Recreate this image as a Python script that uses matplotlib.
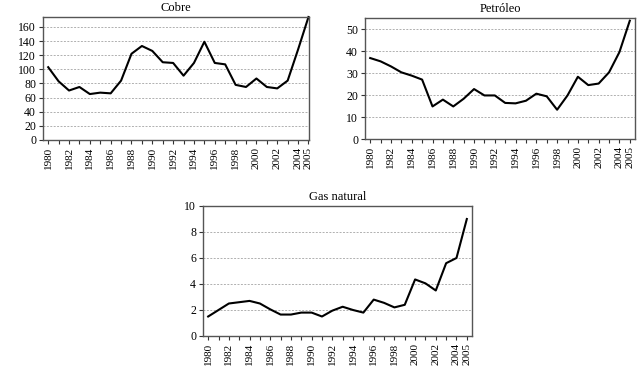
import matplotlib
matplotlib.use("Agg")
import matplotlib.pyplot as plt

years = list(range(1980, 2006))
cobre = [103, 83, 70, 75, 65, 67, 66, 84, 122, 133, 126, 110, 109, 91, 109, 139,
         109, 107, 78, 75, 87, 75, 73, 84, 128, 174]
petroleo = [36.8, 35.3, 33.0, 30.3, 28.8, 27.0, 14.8, 17.9, 14.8, 18.3, 22.7, 19.8,
            19.8, 16.4, 16.2, 17.4, 20.6, 19.4, 13.3, 19.8, 28.3, 24.5, 25.2, 30.3,
            39.5, 53.8]
gas = [1.5, 2.0, 2.5, 2.6, 2.7, 2.5, 2.05, 1.65, 1.65, 1.8, 1.8, 1.5, 1.95, 2.25,
       2.0, 1.8, 2.8, 2.55, 2.2, 2.4, 4.35, 4.05, 3.5, 5.6, 6.0, 9.0]
xlabels = [str(y) if (y % 2 == 0 or y == 2005) else "" for y in years]

plt.rcParams['font.family'] = ['Liberation Serif', 'DejaVu Serif']

W, H = 639, 375
fig = plt.figure(figsize=(W / 100, H / 100), dpi=100)

def mkax(l, r, t, b):
    return fig.add_axes([l / W, 1 - b / H, (r - l) / W, (b - t) / H])

panels = [
    ("Cobre", cobre, (43, 309, 17, 140), (0, 174), list(range(0, 161, 20)), (1979.5, 2005.05)),
    ("Petróleo", petroleo, (365, 635, 18, 139), (0, 55), list(range(0, 51, 10)), (1979.5, 2005.5)),
    ("Gas natural", gas, (203, 472, 206, 336), (0, 10), list(range(0, 11, 2)), (1979.5, 2005.5)),
]

for title, vals, box, ylim, yticks, xlim in panels:
    ax = mkax(*box)
    ax.plot(years, vals, color='black', lw=1.5, clip_on=False)
    ax.set_xlim(*xlim)
    ax.set_ylim(*ylim)
    ax.set_yticks(yticks)
    ax.set_yticklabels([str(v) for v in yticks], fontsize=8.5)
    ax.set_xticks(years)
    ax.set_xticklabels(xlabels, rotation=90, fontsize=8)
    ax.tick_params(axis='both', direction='out', length=3, width=0.8, color='#333333', pad=2)
    for t in yticks:
        if t != 0:
            ax.axhline(t, color='#b0b0b0', lw=0.7, ls=(0, (2, 1.5)), zorder=0)
    for s in ax.spines.values():
        s.set_color('#555555')
        s.set_linewidth(1.0)
    ax.set_title(title, fontsize=9, pad=4)

fig.savefig("out.png", dpi=100)
